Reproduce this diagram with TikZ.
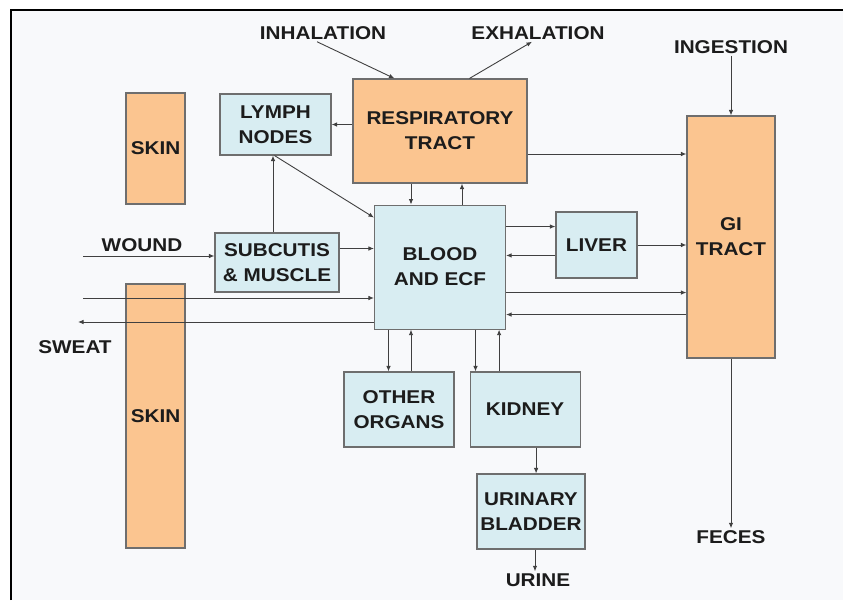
\documentclass[tikz,border=0pt]{standalone}
\usepackage{fontspec}
\newfontfamily\diagfont{Liberation Sans}[FakeStretch=1.12]
\usetikzlibrary{arrows.meta, positioning}
\definecolor{organ}{HTML}{FBC590}
\definecolor{tissue}{HTML}{D8EDF2}
\definecolor{edge}{HTML}{6E6E6E}
\definecolor{paper}{HTML}{F8F9FB}
\definecolor{ink}{HTML}{1C1C1C}

\begin{document}
\begin{tikzpicture}[
    x=1pt, y=-1pt,
    base/.style={rectangle, draw=edge, line width=1.1pt, inner sep=0pt, align=center, text=ink, font=\diagfont\bfseries\fontsize{18.5}{25}\selectfont},
    organbox/.style={base, fill=organ},
    tissuebox/.style={base, fill=tissue},
    % free labels at the ends of the routes
    tag/.style={inner sep=2pt, text=ink, font=\diagfont\bfseries\fontsize{18.5}{25}\selectfont},
    arrow/.style={-{Latex[length=5.5pt,width=4.5pt]}, line width=0.9pt, draw=black!75}
]

    % --- Frame ---
    \fill[white] (0,0) rectangle (843,600);
    \useasboundingbox (0,0) rectangle (843,600);
    \fill[paper] (11,10) rectangle (843,600);
    \draw[line width=2.5pt] (11,600) -- (11,10) -- (843,10);

    % --- Nodes ---
    \node[organbox, minimum width=174pt, minimum height=104pt] (resp) at (440,131) {RESPIRATORY\\TRACT};
    \node[tissuebox, minimum width=131pt, minimum height=124pt, below=21pt of resp] (blood) {BLOOD\\AND ECF};
    \node[tissuebox, minimum width=111pt, minimum height=61pt] (lymph) at (275.5,124.5) {LYMPH\\NODES};
    \node[tissuebox, minimum width=124pt, minimum height=59pt] (subcut) at (277,262.5) {SUBCUTIS\\\& MUSCLE};
    \node[tissuebox, minimum width=81pt, minimum height=66pt] (liver) at (596.5,245) {LIVER};
    \node[organbox, minimum width=88pt, minimum height=242pt] (gi) at (731,237) {GI\\TRACT};

    % Skin
    \node[organbox, minimum width=59pt, minimum height=111pt] (skintop) at (155.5,148.5) {SKIN};
    \node[organbox, minimum width=59pt, minimum height=264pt] (skinbot) at (155.5,416) {SKIN};

    % Lower organs
    \node[tissuebox, minimum width=110pt, minimum height=75pt] (other) at (399,409.5) {OTHER\\ORGANS};
    \node[tissuebox, minimum width=110pt, minimum height=75pt, right=15pt of other] (kidney) {KIDNEY};
    \node[tissuebox, minimum width=108pt, minimum height=75pt] (bladder) at (531,511.5) {URINARY\\BLADDER};

    % Labels
    \node[tag] (inhal) at (323,33) {INHALATION};
    \node[tag] (exhal) at (538,33) {EXHALATION};
    \node[tag] (ingest) at (731,47) {INGESTION};
    \node[tag] (wound) at (142,245) {WOUND};
    \node[tag] (sweat) at (75,347) {SWEAT};
    \node[tag] (urine) at (538,580) {URINE};
    \node[tag] (feces) at (731,537) {FECES};

    \coordinate (woundin) at (83,256);
    \coordinate (skinin) at (83,298);
    \coordinate (sweatout) at (78,322);

    % --- Connections ---
    \draw[arrow] ([xshift=-6pt]inhal.south) -- ([xshift=42pt]resp.north west);
    \draw[arrow] ([xshift=117pt]resp.north west) -- ([xshift=-6pt]exhal.south);
    \draw[arrow] (ingest.south) -- (gi.north);

    \draw[arrow] (resp.west |- lymph.east) -- (lymph.east);
    \draw[arrow] ([yshift=-23pt]resp.east) coordinate (a) -- (a -| gi.west);

    \draw[arrow] ([xshift=-4pt]subcut.north) coordinate (a) -- (a |- lymph.south);
    \draw[arrow] ([xshift=-1pt]lymph.south) -- ([yshift=-13pt]blood.north west);

    \draw[arrow] ([xshift=-29pt]resp.south) coordinate (a) -- (a |- blood.north);
    \draw[arrow] ([xshift=22pt]blood.north) coordinate (a) -- (a |- resp.south);

    \draw[arrow] ([yshift=-22pt]blood.north east) coordinate (a) -- (a -| liver.west);
    \draw[arrow] ([yshift=-44pt]liver.north west) coordinate (a) -- (a -| blood.east);
    \draw[arrow] (liver.east) -- (liver.east -| gi.west);
    \draw[arrow] ([yshift=-88pt]blood.north east) coordinate (a) -- (a -| gi.west);
    \draw[arrow] ([yshift=-110pt]blood.north east) coordinate (a) (a -| gi.west) -- (a);

    \draw[arrow] (woundin) -- (woundin -| subcut.west);
    \draw[arrow] ([yshift=14pt]subcut.east) coordinate (a) -- (a -| blood.west);
    \draw[arrow] (skinin) -- (skinin -| blood.west);
    \draw[arrow] (sweatout -| blood.west) -- (sweatout);

    \draw[arrow] ([xshift=-51.5pt]blood.south) coordinate (a) -- (a |- other.north);
    \draw[arrow] ([xshift=12pt]other.north) coordinate (a) -- (a |- blood.south);
    \draw[arrow] ([xshift=35.5pt]blood.south) coordinate (a) -- (a |- kidney.north);
    \draw[arrow] ([xshift=-26pt]kidney.north) coordinate (a) -- (a |- blood.south);

    \draw[arrow] ([xshift=11pt]kidney.south) coordinate (a) -- (a |- bladder.north);
    \draw[arrow] ([xshift=4pt]bladder.south) coordinate (a) -- (a |- urine.north);
    \draw[arrow] (gi.south) -- (feces.north);

\end{tikzpicture}
\end{document}
